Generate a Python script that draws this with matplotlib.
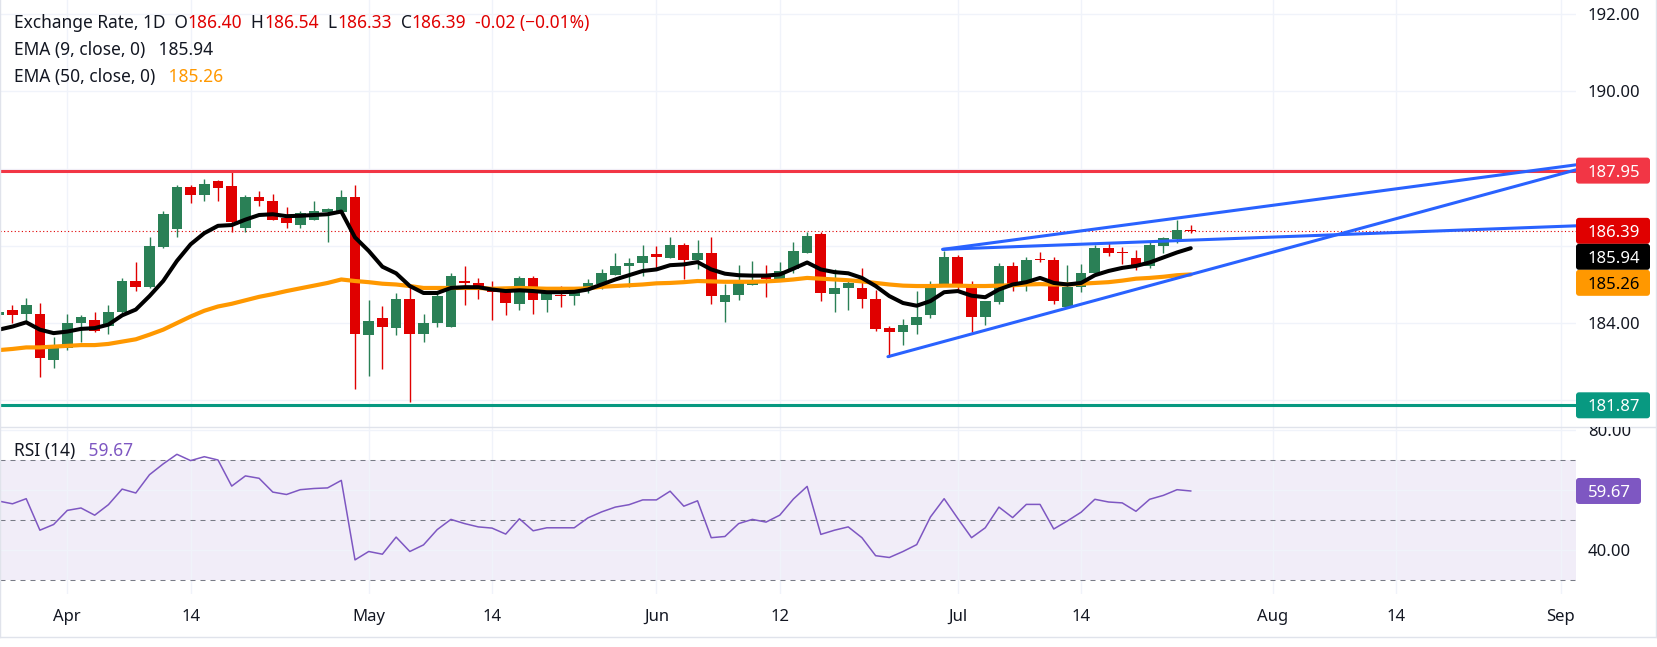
import matplotlib
matplotlib.use("Agg")
import matplotlib.pyplot as plt
from matplotlib.patches import FancyBboxPatch
from matplotlib.lines import Line2D
from matplotlib.text import Annotation
from matplotlib.transforms import Bbox, IdentityTransform
import numpy as np

# daily bars (bar 0 = 25 Mar, last bar = 24 Jul)
opens = [184.20, 184.35, 184.23, 184.24, 183.04, 183.36, 183.99, 184.09, 183.93, 184.30,
         185.10, 184.93, 185.98, 186.43, 187.53, 187.33, 187.67, 187.56, 186.47, 187.27,
         187.17, 186.72, 186.55, 186.68, 186.89, 186.89, 187.27, 183.68, 184.13, 183.86,
         184.63, 183.71, 183.99, 183.91, 185.10, 185.05, 184.87, 184.80, 184.50, 185.18,
         184.59, 184.72, 184.71, 184.85, 185.00, 185.24, 185.48, 185.55, 185.78, 185.69,
         186.03, 185.63, 185.81, 184.54, 184.72, 184.99, 185.22, 185.11, 185.39, 185.82,
         186.30, 184.75, 184.90, 184.92, 184.63, 183.87, 183.76, 183.94, 184.20, 184.95,
         185.70, 185.00, 184.15, 184.54, 185.47, 184.98, 185.66, 185.63, 184.41, 184.93,
         185.30, 185.94, 185.84, 185.68, 185.48, 186.00, 186.17, 186.40]
highs = [184.38, 184.48, 184.65, 184.52, 183.65, 184.24, 184.22, 184.29, 184.48, 185.17,
         185.57, 186.24, 186.90, 187.57, 187.58, 187.74, 187.70, 187.95, 187.32, 187.41,
         187.35, 187.00, 186.90, 187.15, 186.97, 187.45, 187.58, 184.61, 184.43, 184.77,
         184.96, 184.24, 184.77, 185.29, 185.47, 185.17, 185.08, 184.87, 185.23, 185.23,
         184.78, 184.96, 184.87, 185.15, 185.39, 185.81, 185.69, 186.01, 185.99, 186.23,
         186.07, 186.16, 186.23, 185.02, 185.50, 185.60, 185.50, 185.57, 186.10, 186.36,
         186.35, 185.39, 185.15, 185.42, 184.87, 183.92, 184.11, 184.84, 185.10, 185.86,
         185.77, 185.10, 184.56, 185.55, 185.57, 185.72, 185.83, 185.70, 185.50, 185.52,
         186.03, 186.07, 185.98, 185.89, 186.13, 186.23, 186.67, 186.54]
lows = [184.12, 184.00, 184.00, 182.61, 182.84, 183.30, 183.52, 183.76, 183.72, 184.26,
        184.83, 184.90, 185.95, 186.23, 187.12, 187.15, 187.15, 186.37, 186.37, 187.04,
        186.66, 186.46, 186.46, 186.66, 186.10, 186.87, 182.30, 182.63, 182.81, 183.68,
        181.95, 183.52, 183.91, 183.91, 184.46, 184.63, 184.07, 184.20, 184.33, 184.23,
        184.28, 184.41, 184.46, 184.78, 184.89, 185.24, 184.94, 185.22, 185.41, 185.69,
        185.14, 185.39, 184.50, 184.02, 184.61, 184.98, 184.67, 185.11, 185.30, 185.82,
        184.57, 184.30, 184.33, 184.40, 183.80, 183.13, 183.42, 183.73, 184.13, 184.95,
        184.87, 183.78, 183.94, 184.50, 184.83, 184.83, 185.57, 184.50, 184.41, 184.80,
        185.25, 185.74, 185.52, 185.37, 185.43, 185.81, 186.07, 186.33]
closes = [184.30, 184.20, 184.46, 183.10, 183.39, 184.01, 184.15, 183.80, 184.30, 185.10,
          184.93, 185.99, 186.83, 187.53, 187.33, 187.61, 187.51, 186.63, 187.27, 187.17,
          186.68, 186.60, 186.84, 186.90, 186.95, 187.27, 183.71, 184.06, 183.90, 184.63,
          183.71, 184.01, 184.69, 185.23, 185.03, 184.86, 184.80, 184.51, 185.16, 184.59,
          184.77, 184.70, 184.78, 185.05, 185.29, 185.47, 185.55, 185.73, 185.71, 186.02,
          185.63, 185.81, 184.70, 184.74, 185.10, 185.11, 185.14, 185.34, 185.86, 186.25,
          184.77, 184.92, 185.03, 184.62, 183.85, 183.78, 183.96, 184.17, 184.98, 185.70,
          184.95, 184.15, 184.56, 185.47, 184.98, 185.64, 185.63, 184.57, 184.93, 185.31,
          185.94, 185.82, 185.82, 185.48, 186.02, 186.20, 186.41, 186.39]

ema9 = [183.83, 183.91, 184.02, 183.83, 183.74, 183.78, 183.85, 183.87, 183.96, 184.20,
        184.35, 184.70, 185.09, 185.61, 186.04, 186.33, 186.52, 186.54, 186.68, 186.80,
        186.82, 186.77, 186.78, 186.80, 186.82, 186.89, 186.22, 185.87, 185.46, 185.29,
        184.96, 184.78, 184.78, 184.91, 184.93, 184.93, 184.87, 184.83, 184.85, 184.83,
        184.80, 184.80, 184.81, 184.87, 185.00, 185.13, 185.24, 185.35, 185.39, 185.50,
        185.52, 185.58, 185.39, 185.28, 185.24, 185.23, 185.23, 185.26, 185.41, 185.57,
        185.39, 185.32, 185.29, 185.17, 184.96, 184.70, 184.52, 184.45, 184.57, 184.80,
        184.83, 184.71, 184.67, 184.87, 185.00, 185.06, 185.17, 185.04, 185.00, 185.04,
        185.24, 185.35, 185.43, 185.48, 185.57, 185.70, 185.83, 185.94]
ema50 = [183.30, 183.33, 183.37, 183.37, 183.39, 183.41, 183.43, 183.43, 183.46, 183.52,
         183.58, 183.70, 183.83, 184.00, 184.17, 184.32, 184.43, 184.50, 184.59, 184.68,
         184.75, 184.83, 184.90, 184.97, 185.04, 185.13, 185.09, 185.06, 185.02, 185.00,
         184.96, 184.91, 184.91, 184.91, 184.91, 184.91, 184.89, 184.90, 184.91, 184.90,
         184.89, 184.89, 184.89, 184.90, 184.94, 184.96, 184.98, 185.00, 185.03, 185.04,
         185.06, 185.09, 185.08, 185.07, 185.07, 185.07, 185.08, 185.10, 185.13, 185.17,
         185.15, 185.13, 185.11, 185.08, 185.04, 185.00, 184.97, 184.96, 184.96, 184.97,
         184.97, 184.96, 184.96, 184.97, 184.98, 185.00, 185.01, 185.00, 185.00, 185.02,
         185.04, 185.06, 185.10, 185.15, 185.17, 185.20, 185.24, 185.26]
rsi14 = [56.3, 55.4, 57.1, 46.6, 48.5, 53.2, 54.0, 51.6, 55.1, 60.3,
         59.0, 65.1, 68.7, 71.9, 69.8, 71.1, 70.0, 61.3, 64.7, 63.9,
         59.3, 58.5, 60.1, 60.5, 60.7, 63.2, 36.7, 39.5, 38.6, 44.3,
         39.5, 41.7, 46.8, 50.2, 48.8, 47.7, 47.3, 45.3, 50.4, 46.4,
         47.4, 47.4, 47.4, 50.7, 52.7, 54.3, 55.1, 56.7, 56.7, 59.6,
         54.6, 56.4, 44.1, 44.5, 48.8, 50.2, 49.3, 51.6, 57.0, 61.2,
         45.2, 46.6, 47.7, 44.1, 38.1, 37.5, 39.5, 41.8, 51.0, 57.1,
         50.5, 44.1, 47.4, 54.3, 50.8, 55.2, 55.2, 47.0, 49.7, 52.6,
         56.9, 56.0, 55.7, 52.9, 56.9, 58.2, 60.1, 59.67]

tick_bars = [5, 14, 27, 36, 48, 57, 70, 79, 93, 102, 114]
tick_labels = ["Apr", "14", "May", "14", "Jun", "12", "Jul", "14", "Aug", "14", "Sep"]

resistance = 187.95
support = 181.87

# drawn trend lines, (bar, price) anchors
wedge_upper = [(68.9, 185.91), (115.12, 188.10)]
wedge_flat = [(68.9, 185.91), (115.12, 186.52)]
wedge_lower = [(64.9, 183.13), (115.12, 187.97)]

price_ticks = [182, 184, 186, 188, 190, 192]
rsi_ticks = [40, 60, 80]

# colours
up_col = "#2a8056"
down_col = "#e00000"
txt_col = "#131722"
grid_col = "#f0f3fa"
rsi_col = "#7e57c2"

W, H = 1658, 647
plot_right = 1576
main_bottom = 427
rsi_bottom = 594
tag_h = 26

plt.rcParams["font.family"] = ["Noto Sans", "DejaVu Sans"]

fig = plt.figure(figsize=(W / 100, H / 100), dpi=100)


def fx(px):
    return px / W


def fy(py):
    # py measured from the top of the image
    return 1 - py / H


ax = fig.add_axes([0, fy(main_bottom), fx(plot_right), main_bottom / H])
ax_rsi = fig.add_axes([0, fy(rsi_bottom), fx(plot_right), (rsi_bottom - main_bottom) / H], sharex=ax)

x = np.arange(len(closes))
o = np.array(opens)
c = np.array(closes)
up = c >= o
cols = np.where(up, up_col, down_col)

# candles
ax.vlines(x, lows, highs, colors=cols, lw=1.0, zorder=3)
ax.bar(x, np.maximum(np.abs(c - o), 0.025), bottom=np.minimum(o, c), width=0.78,
       color=cols, lw=0, zorder=4)

ax.axhline(closes[-1], color=down_col, lw=0.8, ls=(0, (1, 2.2)), zorder=2.6)
ax.plot(x, ema50, color="#ff9800", lw=3.0, zorder=5, solid_capstyle="round")
ax.plot(x, ema9, color="black", lw=2.9, zorder=6, solid_capstyle="round")

ax.axhline(resistance, color="#f23645", lw=2.2, zorder=7)
ax.axhline(support, color="#089981", lw=2.2, zorder=7)
for line in (wedge_upper, wedge_flat, wedge_lower):
    bx, py = zip(*line)
    ax.plot(bx, py, color="#2962ff", lw=2.2, zorder=8, solid_capstyle="round")

ax.set_xlim(0.088, 115.12)
ax.set_ylim(181.308, 192.37)
ax.set_xticks(tick_bars)
ax.set_yticks(price_ticks)
ax.tick_params(axis="both", length=0, labelbottom=False, labelleft=False)
ax.grid(color=grid_col, lw=1.0)
ax.set_axisbelow(True)
for s in ax.spines.values():
    s.set_visible(False)

# RSI pane
ax_rsi.axhspan(30, 70, color=rsi_col, alpha=0.1, lw=0, zorder=0.3)
for lvl in (70, 50, 30):
    ax_rsi.axhline(lvl, color="#787b86", lw=0.75, ls=(0, (4.8, 4.8)), zorder=2)
ax_rsi.plot(x, rsi14, color=rsi_col, lw=1.1, zorder=4)
ax_rsi.set_ylim(25.33, 81.0)
ax_rsi.set_yticks(rsi_ticks)
ax_rsi.tick_params(axis="y", length=0, labelleft=False, labelright=False)
ax_rsi.set_xticks(tick_bars)
ax_rsi.set_xticklabels(tick_labels)
ax_rsi.tick_params(axis="x", length=0, pad=11, labelsize=12, labelcolor=txt_col)
ax_rsi.grid(color=grid_col, lw=1.0)
ax_rsi.set_axisbelow(True)
for s in ax_rsi.spines.values():
    s.set_visible(False)


def draw_tag(yd, val, fc, tc, width):
    fig.add_artist(FancyBboxPatch((plot_right, yd - tag_h / 2), width, tag_h,
                                  boxstyle="round,pad=0,rounding_size=3",
                                  transform=IdentityTransform(), fc=fc, ec="none", zorder=5))
    fig.text(plot_right + width / 2 + 1, yd, f"{val:.2f}", transform=IdentityTransform(),
             ha="center", va="center_baseline", fontsize=12, color=tc, zorder=6)


# price tags on the right scale, stacked when they would overlap
tags = [(resistance, "#f23645", "white"), (closes[-1], down_col, "white"),
        (ema9[-1], "black", "white"), (ema50[-1], "#ff9800", "black"),
        (support, "#089981", "white")]
tag_y = []
prev = None
for val, fc, tc in sorted(tags, key=lambda t: -t[0]):
    yd = ax.transData.transform((0, val))[1]
    if prev is not None and yd > prev - tag_h:
        yd = prev - tag_h
    prev = yd
    tag_y.append(yd)
    draw_tag(yd, val, fc, tc, 74)

rsi_tag_y = ax_rsi.transData.transform((0, rsi14[-1]))[1]
draw_tag(rsi_tag_y, rsi14[-1], rsi_col, "white", 65)

# scale labels, left out where a tag covers them; each pane clips its own labels
main_clip = Bbox.from_extents(plot_right, H - main_bottom, W, H)
rsi_clip = Bbox.from_extents(plot_right, 0, W, H - main_bottom + 0.5)
for axis_, ticks, covers, clip in ((ax, price_ticks, tag_y, main_clip),
                                   (ax_rsi, rsi_ticks, [rsi_tag_y], rsi_clip)):
    for v in ticks:
        yd = axis_.transData.transform((0, v))[1]
        if any(abs(yd - ty) < tag_h / 2 + 6 for ty in covers):
            continue
        t = fig.text(plot_right + 12, yd, f"{v:.2f}", transform=IdentityTransform(),
                     ha="left", va="center_baseline", fontsize=12, color=txt_col)
        t.set_clip_on(True)
        t.set_clip_box(clip)


# legend texts, each piece placed right after the previous one
def chain(parts, x0, y0, size=12.5):
    prev_t = fig.text(fx(x0), fy(y0), parts[0][0], color=parts[0][1], fontsize=size,
                      ha="left", va="center")
    for s, col in parts[1:]:
        prev_t = fig.add_artist(Annotation(
            s, xy=(1, 0.5), xycoords=prev_t, xytext=(0, 0), textcoords="offset points",
            ha="left", va="center", color=col, fontsize=size))


chg = closes[-1] - closes[-2]
pct = chg / closes[-2] * 100
chain([("Exchange Rate, 1D  O", txt_col), (f"{opens[-1]:.2f}", down_col),
       ("  H", txt_col), (f"{highs[-1]:.2f}", down_col),
       ("  L", txt_col), (f"{lows[-1]:.2f}", down_col),
       ("  C", txt_col), (f"{closes[-1]:.2f}", down_col),
       (f"  {chg:.2f} (" + f"{pct:.2f}".replace("-", "\u2212") + "%)", down_col)], 14, 23)
chain([("EMA (9, close, 0)", txt_col), (f"   {ema9[-1]:.2f}", txt_col)], 14, 50)
chain([("EMA (50, close, 0)", txt_col), (f"   {ema50[-1]:.2f}", "#ff9800")], 14, 77)
chain([("RSI (14)", txt_col), (f"   {rsi14[-1]:.2f}", rsi_col)], 14, 451)

# pane divider and outer frame
frame_col = "#e0e3eb"
fig.add_artist(Line2D([0, 1], [fy(426.5), fy(426.5)], color=frame_col, lw=1.0))
fig.add_artist(Line2D([0, 1], [fy(637), fy(637)], color=frame_col, lw=1.0))
fig.add_artist(Line2D([fx(0.5), fx(0.5)], [fy(637), 1], color=frame_col, lw=1.0))
fig.add_artist(Line2D([fx(1656), fx(1656)], [fy(637), 1], color=frame_col, lw=1.0))

fig.savefig("out.png", dpi=100)
